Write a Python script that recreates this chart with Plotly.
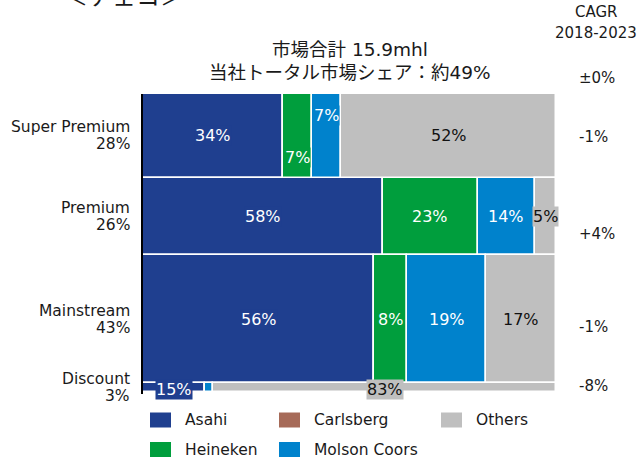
import plotly.graph_objects as go

# ---------------- data ----------------
segments = ["Super Premium", "Premium", "Mainstream", "Discount"]
segment_share = [28, 26, 43, 3]          # % of market volume (row heights)
companies = ["Asahi", "Carlsberg", "Heineken", "Molson Coors", "Others"]
asahi = [34, 58, 56, 15]
carlsberg = [0, 0, 0, 0]
heineken = [7, 23, 8, 0]
molson = [7, 14, 19, 2]
others = [52, 5, 17, 83]
cagr_labels = ["±0%", "-1%", "+4%", "-1%", "-8%"]   # total, then per segment
cagr_header = ["CAGR", "2018-2023"]
title_lines = ["市場合計 15.9mhl", "当社トータル市場シェア：約49%"]
country = "＜チェコ＞"

# ---------------- styling ----------------
colors = {
    "Asahi": "#1F3F8F",
    "Carlsberg": "#A66A58",
    "Heineken": "#009E3D",
    "Molson Coors": "#0082CC",
    "Others": "#BFBFBF",
}
text_colors = {
    "Asahi": "white", "Carlsberg": "white", "Heineken": "white",
    "Molson Coors": "white", "Others": "#111111",
}
LAT = "DejaVu Sans, Noto Sans CJK JP, sans-serif"
JP = "DejaVu Sans, Noto Sans CJK JP, sans-serif"
INK = "#1a1a1a"

values = {
    "Asahi": asahi, "Carlsberg": carlsberg, "Heineken": heineken,
    "Molson Coors": molson, "Others": others,
}

# plot-area geometry in pixels
W, H = 640, 464
L, R, T, B = 143, 84, 94, 70
PW, PH = W - L - R, H - T - B


def px_x(px):
    return (px - L) / PW


def px_y(py):
    return (H - B - py) / PH


# row geometry (data units on reversed y axis 0..100)
starts = []
acc = 0
for s in segment_share:
    starts.append(acc)
    acc += s
centers = [st + h / 2 for st, h in zip(starts, segment_share)]

fig = go.Figure()
annotations = []

# label vertical pixel tweaks to avoid overlaps (segment index, company) -> yshift
label_shift = {(0, "Heineken"): -22, (0, "Molson Coors"): 20, (3, "Asahi"): -2, (3, "Others"): -2}

cum = [0.0] * len(segments)
for comp in companies:
    vals = values[comp]
    fig.add_trace(go.Bar(
        orientation="h",
        y=centers,
        x=vals,
        base=cum[:],
        width=segment_share,
        marker=dict(color=colors[comp], line=dict(color="white", width=1.5)),
        name=comp,
        showlegend=False,
        hoverinfo="skip",
    ))
    for i, v in enumerate(vals):
        if v >= 3:
            annotations.append(dict(
                x=cum[i] + v / 2, y=centers[i], xref="x", yref="y",
                xanchor="center", yanchor="middle",
                text=f"{v}%", showarrow=False,
                font=dict(family=LAT, size=16, color=text_colors[comp]),
                bgcolor=colors[comp], borderpad=0,
                yshift=label_shift.get((i, comp), 0),
            ))
    cum = [c + v for c, v in zip(cum, vals)]

# row labels (left) - two lines, tight spacing
for i, seg in enumerate(segments):
    for line, dy in ((seg, 8.5), (f"{segment_share[i]}%", -8.5)):
        annotations.append(dict(
            x=0, xref="paper", xshift=-11, xanchor="right",
            y=centers[i], yref="y", yanchor="middle", yshift=dy,
            text=line, showarrow=False,
            font=dict(family=LAT, size=15.5, color=INK),
        ))

# CAGR labels (right)
cagr_pix_y = [78, 137, 234, 327, 386]
for lab, py in zip(cagr_labels, cagr_pix_y):
    annotations.append(dict(
        x=px_x(577), xref="paper", xanchor="left",
        y=px_y(py), yref="paper", yanchor="middle",
        text=lab, showarrow=False,
        font=dict(family=LAT, size=15, color=INK),
    ))
for lab, py in zip(cagr_header, [12, 33]):
    annotations.append(dict(
        x=px_x(596), xref="paper", xanchor="center",
        y=px_y(py), yref="paper", yanchor="middle",
        text=lab, showarrow=False,
        font=dict(family=LAT, size=15, color=INK),
    ))

# titles
for line, py in zip(title_lines, [49, 72]):
    annotations.append(dict(x=0.5, xref="paper", xanchor="center",
                            y=px_y(py), yref="paper", yanchor="middle",
                            text=line, showarrow=False,
                            font=dict(family=JP, size=18.5, color=INK)))
annotations.append(dict(x=px_x(124), xref="paper", xanchor="center",
                        y=px_y(-5), yref="paper", yanchor="middle",
                        text=country, showarrow=False,
                        font=dict(family="Noto Sans CJK JP, sans-serif", size=24, color=INK)))

# manual legend (3 columns, 2 rows)
legend_order = ["Asahi", "Carlsberg", "Others", "Heineken", "Molson Coors"]
col_x = [150, 279, 441]
row_y = [420, 449.5]
shapes = []
for k, comp in enumerate(legend_order):
    r, c = divmod(k, 3)
    x0 = col_x[c]
    yc = row_y[r]
    shapes.append(dict(type="rect", xref="paper", yref="paper",
                       x0=px_x(x0), x1=px_x(x0 + 21),
                       y0=px_y(yc + 7.5), y1=px_y(yc - 7.5),
                       fillcolor=colors[comp], line=dict(width=0)))
    annotations.append(dict(x=px_x(x0 + 33), xref="paper", xanchor="left",
                            y=px_y(yc), yref="paper", yanchor="middle",
                            text=comp, showarrow=False,
                            font=dict(family=LAT, size=15.5, color=INK)))

fig.update_layout(
    width=W, height=H,
    margin=dict(l=L, r=R, t=T, b=B),
    paper_bgcolor="white", plot_bgcolor="white",
    barmode="overlay",
    bargap=0,
    showlegend=False,
    xaxis=dict(range=[0, 100], showgrid=False, zeroline=False, showticklabels=False,
               showline=False, fixedrange=True),
    yaxis=dict(range=[100.6, 0], showgrid=False, zeroline=False, showticklabels=False,
               showline=True, linecolor="black", linewidth=2, ticks="", fixedrange=True),
    annotations=annotations,
    shapes=shapes,
)

fig.write_html("out.html", config={"displayModeBar": False},
               post_script="document.body.style.margin='0';")
